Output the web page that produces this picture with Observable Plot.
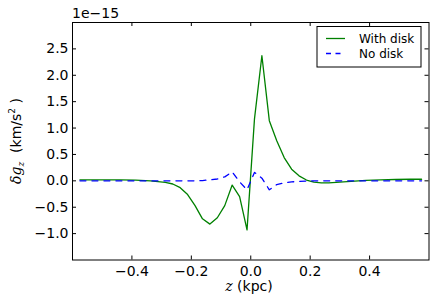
<!DOCTYPE html>
<html>
<head>
<meta charset="utf-8">
<script src="https://cdn.jsdelivr.net/npm/d3@7"></script>
<script src="https://cdn.jsdelivr.net/npm/@observablehq/plot@0.6"></script>
<style>
  html, body { margin: 0; padding: 0; background: white; }
  #chart { width: 436px; height: 306px; }
</style>
</head>
<body>
<div id="chart"></div>
<script>
// z positions (kpc)
const zVals = [-0.575, -0.5375, -0.4875, -0.4375, -0.3875, -0.3375, -0.2875, -0.2625,
  -0.2375, -0.2125, -0.1875, -0.1625, -0.1375, -0.1125, -0.0875, -0.0625, -0.0375, -0.0125,
  0.0125, 0.0375, 0.0625, 0.0875, 0.1125, 0.1375, 0.1625, 0.1875, 0.2125, 0.2375, 0.2625,
  0.2875, 0.3375, 0.3875, 0.4375, 0.4875, 0.5375, 0.575];
// delta g_z, units of 1e-15 km/s^2
const withDisk = [0.02, 0.02, 0.02, 0.02, 0.015, 0.0, -0.03, -0.06,
  -0.13, -0.26, -0.47, -0.72, -0.82, -0.70, -0.47, -0.08, -0.30, -0.93,
  1.17, 2.37, 1.14, 0.76, 0.44, 0.22, 0.095, 0.015, -0.025, -0.04, -0.04,
  -0.03, -0.01, 0.01, 0.02, 0.025, 0.03, 0.03];
const noDisk = [0.0, 0.0, 0.0, 0.0, 0.0, 0.0, 0.0, 0.0,
  0.0, 0.0, 0.0, 0.005, 0.02, 0.035, 0.075, 0.17, -0.02, -0.17,
  0.16, 0.05, -0.17, -0.07, -0.04, -0.02, -0.01, -0.005, 0.0, 0.0, 0.0,
  0.0, 0.0, 0.0, 0.0, 0.0, 0.0, 0.0];
const seriesNames = ["With disk", "No disk"];
const seriesColors = ["#008000", "#0000ff"];
const xTicks = [-0.4, -0.2, 0.0, 0.2, 0.4];
const yTicks = [-1.0, -0.5, 0.0, 0.5, 1.0, 1.5, 2.0, 2.5];
const xDomain = [-0.6, 0.6];
const yDomain = [-1.5, 3.0];

const W = 436, H = 306;
const mL = 72, mR = 7.5, mT = 22, mB = 46.5;
const pw = W - mL - mR, ph = H - mT - mB;

const d1 = zVals.map((z, i) => ({z, v: withDisk[i]}));
const d2 = zVals.map((z, i) => ({z, v: noDisk[i]}));

const plot = Plot.plot({
  width: W, height: H,
  marginLeft: mL, marginRight: mR, marginTop: mT, marginBottom: mB,
  style: {fontFamily: "DejaVu Sans", fontSize: "14px", background: "white", color: "black"},
  x: {domain: xDomain},
  y: {domain: yDomain},
  marks: [
    Plot.line(d1, {x: "z", y: "v", stroke: seriesColors[0], strokeWidth: 1.3}),
    Plot.line(d2, {x: "z", y: "v", stroke: seriesColors[1], strokeWidth: 1.3, strokeDasharray: "6,6"}),
    Plot.tickX(xTicks, {x: d => d, insetTop: ph - 4, stroke: "black"}),
    Plot.tickX(xTicks, {x: d => d, insetBottom: ph - 4, stroke: "black"}),
    Plot.tickY(yTicks, {y: d => d, insetRight: pw - 4, stroke: "black"}),
    Plot.tickY(yTicks, {y: d => d, insetLeft: pw - 4, stroke: "black"}),
    Plot.axisX({ticks: xTicks, tickSize: 0, tickPadding: 6, tickFormat: d3.format(".1f"), label: null, fontSize: 14}),
    Plot.axisY({ticks: yTicks, tickSize: 0, tickPadding: 4, tickFormat: d3.format(".1f"), label: null, fontSize: 14}),
    Plot.frame({stroke: "black", strokeWidth: 1})
  ]
});
document.getElementById("chart").appendChild(plot);

const svg = d3.select(plot);
const font = "DejaVu Sans";
// offset text
svg.append("text").attr("x", 72).attr("y", 18).attr("text-anchor", "start")
  .attr("font-family", font).attr("font-size", 14).attr("fill", "black").text("1e\u221215");

// x label
const xl = svg.append("text").attr("x", 249).attr("y", 291).attr("text-anchor", "middle")
  .attr("font-family", font).attr("font-size", 14).attr("fill", "black");
xl.append("tspan").attr("font-family", "DejaVu Serif").attr("font-style", "italic").text("z");
xl.append("tspan").text(" (kpc)");

// y label
const yl = svg.append("text").attr("transform", "translate(21,141) rotate(-90)")
  .attr("text-anchor", "middle").attr("font-family", font).attr("font-size", 14).attr("fill", "black");
yl.append("tspan").attr("font-family", "DejaVu Serif").attr("font-style", "italic").text("\u03b4g");
yl.append("tspan").attr("font-family", "DejaVu Serif").attr("font-style", "italic").attr("font-size", 9).attr("dy", 3).text("z");
yl.append("tspan").attr("dy", -3).text("  (km/s");
yl.append("tspan").attr("font-size", 9).attr("dy", -6).text("2");
yl.append("tspan").attr("dy", 6).text(" )");

// legend
const lg = svg.append("g");
lg.append("rect").attr("x", 317).attr("y", 26.5).attr("width", 104).attr("height", 40.5)
  .attr("fill", "white").attr("stroke", "black").attr("stroke-width", 1);
seriesNames.forEach((name, i) => {
  const y = 38.5 + i * 15;
  lg.append("line").attr("x1", 326).attr("x2", 345).attr("y1", y).attr("y2", y)
    .attr("stroke", seriesColors[i]).attr("stroke-width", 1.3)
    .attr("stroke-dasharray", i === 1 ? "5,4.5" : null);
  lg.append("text").attr("x", 359).attr("y", y + 4.3).attr("text-anchor", "start")
    .attr("font-family", font).attr("font-size", 12).attr("fill", "black").text(name);
});
</script>
</body>
</html>
